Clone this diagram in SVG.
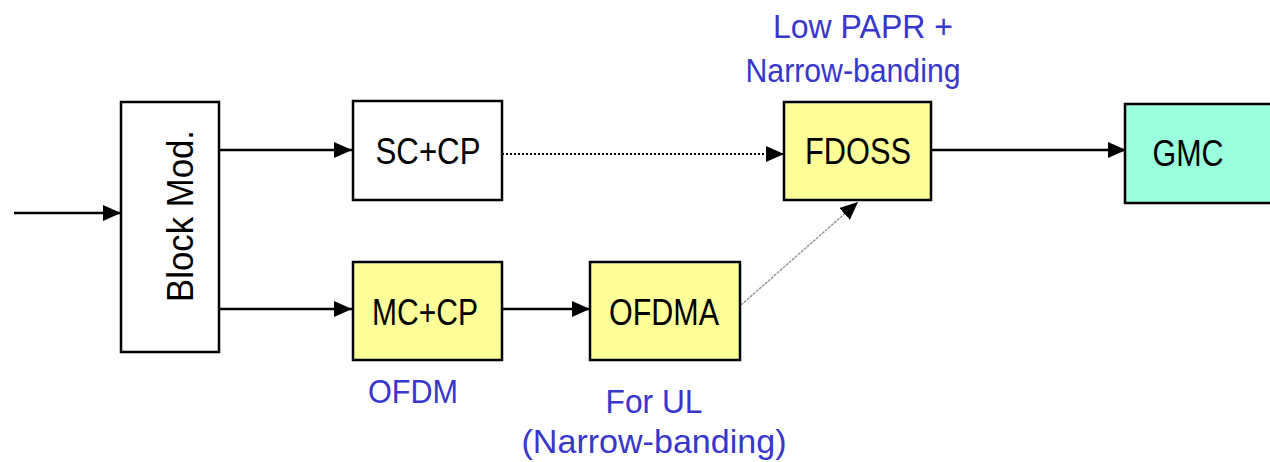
<svg xmlns="http://www.w3.org/2000/svg" width="1270" height="462" viewBox="0 0 1270 462">
<style>
.box{stroke:#000;stroke-width:2.5}
.t{font-family:"Liberation Sans","DejaVu Sans",sans-serif;font-size:36px;fill:#000;text-anchor:middle}
.lbl{font-family:"Liberation Sans","DejaVu Sans",sans-serif;font-size:33px;fill:#3737CC;text-anchor:middle}
.ln{stroke:#000;stroke-width:2.5;fill:none}
</style>
<defs>
<marker id="ah" viewBox="0 0 18 16" refX="18" refY="8" markerWidth="18" markerHeight="16" markerUnits="userSpaceOnUse" orient="auto">
<path d="M0,0 L18,8 L0,16 Z" fill="#000"/>
</marker>
</defs>
<g id="connectors">
<line class="ln" x1="14" y1="213" x2="121" y2="213" marker-end="url(#ah)"/>
<line class="ln" x1="219" y1="150" x2="352" y2="150" marker-end="url(#ah)"/>
<line class="ln" x1="217" y1="309" x2="352" y2="309" marker-end="url(#ah)"/>
<line x1="502" y1="154" x2="784" y2="154" stroke="#000" stroke-width="2" stroke-dasharray="2,2" marker-end="url(#ah)"/>
<line class="ln" x1="502" y1="309" x2="590" y2="309" marker-end="url(#ah)"/>
<line x1="741" y1="305" x2="858" y2="202" stroke="#999" stroke-width="1.5" stroke-dasharray="3,1" marker-end="url(#ah)"/>
<line class="ln" x1="931" y1="150" x2="1126" y2="150" marker-end="url(#ah)"/>
</g>
<g id="block-mod">
<rect class="box" x="121" y="102" width="98" height="250" fill="#fff"/>
<text class="t" transform="translate(193,216) rotate(-90)" textLength="172" lengthAdjust="spacingAndGlyphs">Block Mod.</text>
</g>
<g id="sc-cp">
<rect class="box" x="353" y="101" width="149" height="99" fill="#fff"/>
<text class="t" x="428" y="164" textLength="105" lengthAdjust="spacingAndGlyphs">SC+CP</text>
</g>
<g id="mc-cp">
<rect class="box" x="353" y="262" width="149" height="98" fill="#FFFF99"/>
<text class="t" x="425" y="325" textLength="106" lengthAdjust="spacingAndGlyphs">MC+CP</text>
</g>
<g id="ofdma">
<rect class="box" x="590" y="262" width="150" height="98" fill="#FFFF99"/>
<text class="t" x="664" y="325" textLength="110" lengthAdjust="spacingAndGlyphs">OFDMA</text>
</g>
<g id="fdoss">
<rect class="box" x="784" y="102" width="147" height="98" fill="#FFFF99"/>
<text class="t" x="858" y="164" textLength="106" lengthAdjust="spacingAndGlyphs">FDOSS</text>
</g>
<g id="gmc">
<rect class="box" x="1125" y="104" width="150" height="99" fill="#99FFDD"/>
<text class="t" x="1188" y="166" textLength="71" lengthAdjust="spacingAndGlyphs">GMC</text>
</g>
<g id="labels">
<text class="lbl" x="863" y="38" textLength="180" lengthAdjust="spacingAndGlyphs">Low PAPR +</text>
<text class="lbl" x="853" y="82" textLength="215" lengthAdjust="spacingAndGlyphs">Narrow-banding</text>
<text class="lbl" x="413" y="403" textLength="90" lengthAdjust="spacingAndGlyphs">OFDM</text>
<text class="lbl" x="654" y="413" textLength="97" lengthAdjust="spacingAndGlyphs">For UL</text>
<text class="lbl" x="654" y="453" textLength="265" lengthAdjust="spacingAndGlyphs">(Narrow-banding)</text>
</g>
</svg>
